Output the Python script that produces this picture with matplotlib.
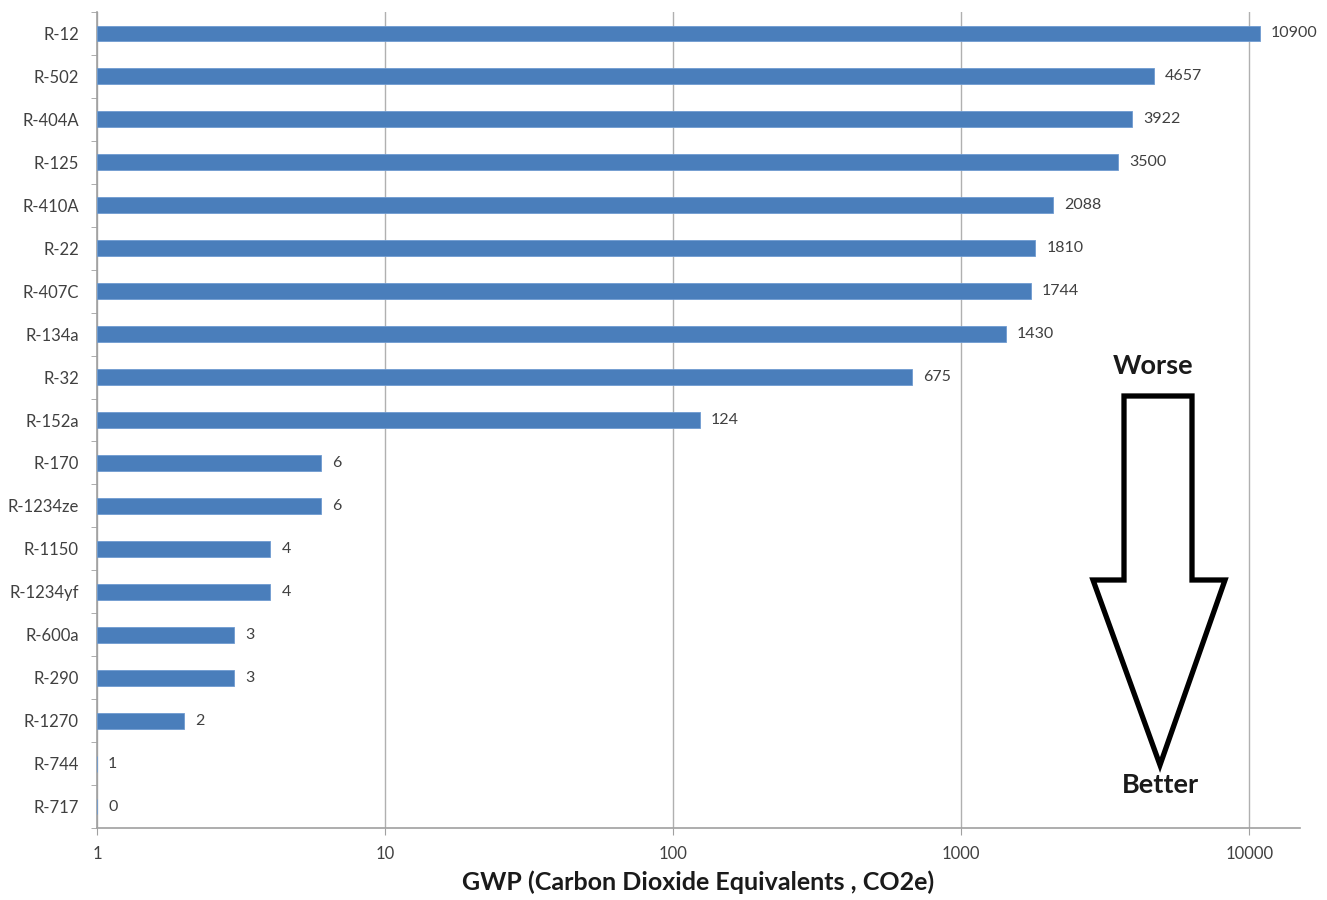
import matplotlib
matplotlib.use('Agg')
import matplotlib.pyplot as plt
from matplotlib.patches import Polygon
import numpy as np

refrigerants = ['R-12', 'R-502', 'R-404A', 'R-125', 'R-410A', 'R-22', 'R-407C',
                'R-134a', 'R-32', 'R-152a', 'R-170', 'R-1234ze', 'R-1150',
                'R-1234yf', 'R-600a', 'R-290', 'R-1270', 'R-744', 'R-717']
gwp = [10900, 4657, 3922, 3500, 2088, 1810, 1744, 1430, 675, 124,
       6, 6, 4, 4, 3, 3, 2, 1, 0]
x_ticks = [1, 10, 100, 1000, 10000]

plt.rcParams['font.family'] = ['Lato', 'DejaVu Sans']

W, H = 1327, 900
fig = plt.figure(figsize=(W / 100, H / 100), dpi=100)
ax = fig.add_axes([97 / W, 1 - 828 / H, (1300 - 97) / W, (828 - 12) / H])

y = np.arange(len(refrigerants))
# log axis: bars start at 1 (value 0 and 1 give no visible bar)
base = 1
widths = [max(v, base) - base for v in gwp]
ax.barh(y, widths, left=base, height=0.37, color='#4a7ebb',
        edgecolor='#6f9bd1', linewidth=0.6, zorder=3)

for yi, v in zip(y, gwp):
    ax.annotate(str(v), xy=(max(v, base), yi), xytext=(8, 0),
                textcoords='offset points', va='center', ha='left',
                fontsize=11.5, color='#404040')

ax.set_xscale('log')
ax.set_xlim(1, 15000)
ax.set_ylim(len(refrigerants) - 0.5, -0.5)
ax.set_xticks(x_ticks)
ax.set_xticklabels([str(t) for t in x_ticks])
ax.xaxis.set_minor_locator(matplotlib.ticker.NullLocator())
ax.set_yticks(y)
ax.set_yticklabels(refrigerants)
ax.set_yticks(np.arange(-0.5, len(refrigerants), 1), minor=True)
ax.tick_params(axis='y', which='major', length=0, pad=13, labelsize=12,
               labelcolor='#404040')
ax.tick_params(axis='y', which='minor', length=4, color='#a0a0a0', direction='out')
ax.tick_params(axis='x', which='major', length=5, color='#a0a0a0', labelsize=12,
               labelcolor='#404040', pad=8)

ax.grid(axis='x', color='#b0b0b0', linewidth=1, zorder=0)
for s in ['top', 'right']:
    ax.spines[s].set_visible(False)
for s in ['left', 'bottom']:
    ax.spines[s].set_color('#a0a0a0')
    ax.spines[s].set_linewidth(1.2)

ax.set_xlabel('GWP (Carbon Dioxide Equivalents , CO2e)', fontsize=18,
              fontweight='bold', color='#1a1a1a', labelpad=6)

# "Worse -> Better" outline arrow, in pixel coordinates of the figure
pts = [(1124, 396), (1192, 396), (1192, 580), (1225, 580), (1160, 765),
       (1093, 580), (1124, 580)]
pts = [(px / W, 1 - py / H) for px, py in pts]
fig.patches.append(Polygon(pts, closed=True, fill=False, edgecolor='black',
                           linewidth=3.8, joinstyle='miter',
                           transform=fig.transFigure))
fig.text(1153 / W, 1 - 366 / H, 'Worse', ha='center', va='center',
         fontsize=19.5, fontweight='bold', color='#1a1a1a')
fig.text(1160 / W, 1 - 785 / H, 'Better', ha='center', va='center',
         fontsize=19.5, fontweight='bold', color='#1a1a1a')

fig.savefig('out.png', dpi=100)
